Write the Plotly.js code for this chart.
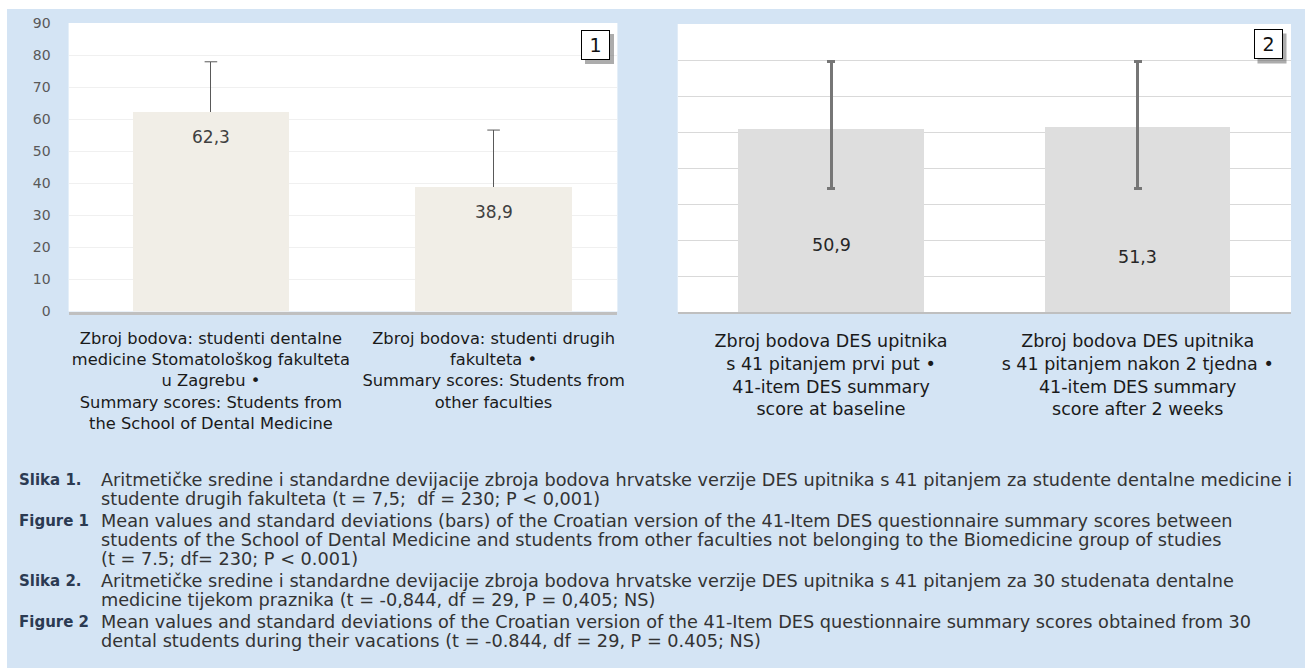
<!DOCTYPE html>
<html><head><meta charset="utf-8">
<script src="https://cdn.plot.ly/plotly-3.0.1.min.js"></script>
<style>html,body{margin:0;padding:0;background:#fff}#chart{width:1305px;height:668px}</style>
</head><body><div id="chart"></div>
<script>
// ---- data ----
const fig1Categories = [
  "Zbroj bodova: studenti dentalne<br>medicine Stomatološkog fakulteta<br>u Zagrebu •<br>Summary scores: Students from<br>the School of Dental Medicine",
  "Zbroj bodova: studenti drugih<br>fakulteta •<br>Summary scores: Students from<br>other faculties"
];
const fig1Means = [62.3, 38.9];
const fig1SD = [15.6, 17.7];
const fig1Labels = ["62,3", "38,9"];
const fig1YTicks = [0, 10, 20, 30, 40, 50, 60, 70, 80, 90];

const fig2Categories = [
  "Zbroj bodova DES upitnika<br>s 41 pitanjem prvi put •<br>41-item DES summary<br>score at baseline",
  "Zbroj bodova DES upitnika<br>s 41 pitanjem nakon 2 tjedna •<br>41-item DES summary<br>score after 2 weeks"
];
const fig2Means = [50.9, 51.3];
const fig2SDPlus = [18.6, 18.2];
const fig2SDMinus = [16.7, 17.1];
const fig2Labels = ["50,9", "51,3"];

const captionHeads = ["Slika 1.", "Figure 1", "Slika 2.", "Figure 2"];
const captionLines = [
  ["Aritmetičke sredine i standardne devijacije zbroja bodova hrvatske verzije DES upitnika s 41 pitanjem za studente dentalne medicine i",
   "studente drugih fakulteta (t = 7,5;  df = 230; P < 0,001)"],
  ["Mean values and standard deviations (bars) of the Croatian version of the 41-Item DES questionnaire summary scores between",
   "students of the School of Dental Medicine and students from other faculties not belonging to the Biomedicine group of studies",
   "(t = 7.5; df= 230; P < 0.001)"],
  ["Aritmetičke sredine i standardne devijacije zbroja bodova hrvatske verzije DES upitnika s 41 pitanjem za 30 studenata dentalne",
   "medicine tijekom praznika (t = -0,844, df = 29, P = 0,405; NS)"],
  ["Mean values and standard deviations of the Croatian version of the 41-Item DES questionnaire summary scores obtained from 30",
   "dental students during their vacations (t = -0.844, df = 29, P = 0.405; NS)"]
];

// ---- layout helpers ----
const W = 1305, H = 668;
const px = v => v / W;
const py = v => 1 - v / H;
const FONT = "DejaVu Sans";
const FAM = "DejaVu Sans, Verdana, sans-serif";

// size a font so that a given string reaches a target pixel width
const ctx = document.createElement("canvas").getContext("2d");
function fitSize(text, target, weight) {
  ctx.font = (weight || "normal") + " 100px '" + FONT + "'";
  const w = ctx.measureText(text).width;
  return Math.round(100 * target / w * 10) / 10;
}
const cat1Size = fitSize("medicine Stomatološkog fakulteta", 278);
const cat2Size = fitSize("s 41 pitanjem nakon 2 tjedna •", 272);
const capSize = fitSize(captionLines[0][0], 1190);
const headSize = fitSize("Figure 1", 70, "bold");

const traces = [
  {
    type: "bar", x: fig1Categories, y: fig1Means, xaxis: "x", yaxis: "y",
    width: 0.553, marker: {color: "#f1eee7"}, hoverinfo: "y",
    error_y: {type: "data", symmetric: false, array: fig1SD, arrayminus: fig1SD.map(() => 0),
              color: "#595959", thickness: 1, width: 0}
  },
  {
    type: "scatter", mode: "markers", x: fig1Categories,
    y: fig1Means.map((m, i) => m + fig1SD[i]), xaxis: "x", yaxis: "y",
    marker: {symbol: "line-ew", size: 9, line: {width: 1, color: "#595959"}}, hoverinfo: "skip"
  },
  {
    type: "bar", x: fig2Categories, y: fig2Means, xaxis: "x2", yaxis: "y2",
    width: 0.604, marker: {color: "#dedede"}, hoverinfo: "y",
    error_y: {type: "data", symmetric: false, array: fig2SDPlus, arrayminus: fig2SDMinus,
              color: "#767676", thickness: 3, width: 4}
  }
];

const annotations = [];
fig1Labels.forEach((t, i) => annotations.push({
  x: fig1Categories[i], y: fig1Means[i], xref: "x", yref: "y", yshift: -25, showarrow: false,
  yanchor: "middle", text: t, font: {family: FAM, size: 17, color: "#404040"}
}));
const fig2Shift = [-116, -130];
fig2Labels.forEach((t, i) => annotations.push({
  x: fig2Categories[i], y: fig2Means[i], xref: "x2", yref: "y2", yshift: fig2Shift[i], showarrow: false,
  yanchor: "middle", text: t, font: {family: FAM, size: 17.5, color: "#262626"}
}));
// panel number boxes
[["1", 595.5, 45], ["2", 1268, 44.5]].forEach(([t, cx, cy]) => annotations.push({
  x: px(cx), y: py(cy), xref: "paper", yref: "paper", xanchor: "center", yanchor: "middle",
  showarrow: false, text: t,
  width: 27, height: 28, borderpad: 0, borderwidth: 1, bordercolor: "#000", bgcolor: "#fff",
  font: {family: FAM, size: 19, color: "#111"}
}));
// captions
const lineY = [[480, 499], [521, 540, 559], [581, 600], [622, 641]];
captionHeads.forEach((h, k) => {
  annotations.push({x: px(17), y: py(lineY[k][0]), xref: "paper", yref: "paper", xanchor: "left",
    yanchor: "middle", showarrow: false, text: "<b>" + h + "</b>",
    font: {family: FAM, size: headSize, color: "#2b3a52"}});
  captionLines[k].forEach((ln, j) => annotations.push({
    x: px(99), y: py(lineY[k][j]), xref: "paper", yref: "paper", xanchor: "left", yanchor: "middle",
    showarrow: false, text: ln, font: {family: FAM, size: capSize, color: "#333"}}));
});

const shapes = [
  {type: "rect", xref: "paper", yref: "paper", x0: px(7), x1: 1, y0: 0, y1: py(9), layer: "below",
   line: {width: 0}, fillcolor: "#d4e4f4"},
  {type: "rect", xref: "paper", yref: "paper", x0: px(68.6), x1: px(617.4), y0: py(311.5), y1: py(23), layer: "below",
   line: {width: 0}, fillcolor: "#ffffff"},
  {type: "rect", xref: "paper", yref: "paper", x0: px(677.7), x1: px(1291), y0: py(312), y1: py(24), layer: "below",
   line: {width: 0}, fillcolor: "#ffffff"},
  {type: "rect", xref: "paper", yref: "paper", x0: px(585), x1: px(614), y0: py(64), y1: py(34), layer: "above",
   line: {width: 0}, fillcolor: "rgba(90,90,90,0.5)"},
  {type: "rect", xref: "paper", yref: "paper", x0: px(1257.5), x1: px(1286.5), y0: py(63.5), y1: py(33.5), layer: "above",
   line: {width: 0}, fillcolor: "rgba(90,90,90,0.5)"}
];

const layout = {
  width: W, height: H, margin: {l: 0, r: 0, t: 0, b: 0},
  paper_bgcolor: "#ffffff", plot_bgcolor: "rgba(0,0,0,0)",
  showlegend: false, bargap: 0,
  xaxis: {domain: [px(68.6), px(617.4)], anchor: "y", range: [-0.5035, 1.438], showgrid: false,
          showline: true, linecolor: "#c0c0c0", linewidth: 3, ticks: "", fixedrange: true,
          tickfont: {family: FAM, size: cat1Size, color: "#1a1a1a"},
          ticklabelstandoff: Math.max(0, Math.round(337 - 311.5 - 0.95 * cat1Size))},
  yaxis: {domain: [py(311.5), py(23)], anchor: "x", range: [0, 90], tickvals: fig1YTicks,
          showgrid: true, gridcolor: "#f0f0f0", zeroline: false, showline: false, fixedrange: true,
          tickfont: {family: FAM, size: 14, color: "#595959"}, ticklabelstandoff: 17},
  xaxis2: {domain: [px(677.7), px(1291)], anchor: "y2", range: [-0.5, 1.5], showgrid: false,
           showline: true, linecolor: "#bfbfbf", linewidth: 2, ticks: "", fixedrange: true,
           tickfont: {family: FAM, size: cat2Size, color: "#1a1a1a"},
           ticklabelstandoff: Math.max(0, Math.round(341 - 312 - 0.95 * cat2Size))},
  yaxis2: {domain: [py(312), py(24)], anchor: "x2", range: [0, 80], dtick: 10,
           showgrid: true, gridcolor: "#d9d9d9", zeroline: false, showline: false,
           showticklabels: false, fixedrange: true},
  shapes: shapes, annotations: annotations
};

Plotly.newPlot("chart", traces, layout, {displayModeBar: false, staticPlot: true});
</script></body></html>
